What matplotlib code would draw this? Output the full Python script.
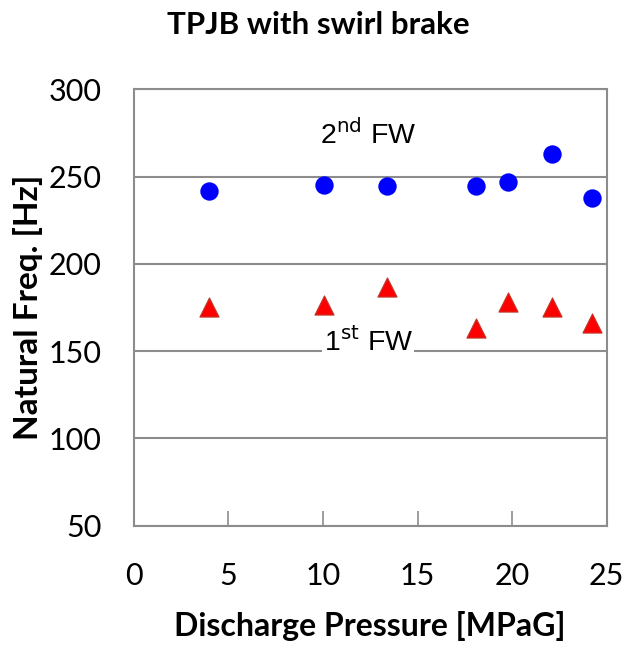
import matplotlib
matplotlib.use("Agg")
import matplotlib.pyplot as plt
from matplotlib import font_manager

pressure = [4.0, 10.05, 13.4, 18.1, 19.8, 22.1, 24.2]
fw2 = [241.5, 245.2, 244.8, 244.6, 247.1, 262.8, 237.5]
fw1 = [175.5, 176.4, 186.6, 163.1, 178.3, 175.3, 165.9]
xticks = [0, 5, 10, 15, 20, 25]
yticks = [50, 100, 150, 200, 250, 300]

names = {f.name for f in font_manager.fontManager.ttflist}
narrow = 'Liberation Sans Narrow' if 'Liberation Sans Narrow' in names else 'Liberation Sans'
base = 'Lato'

fig = plt.figure(figsize=(6.42, 6.53), dpi=100)
ax = fig.add_axes([133.7/642, 1 - 525.7/653, (606.7-133.7)/642, (525.7-89.3)/653])

ax.set_xlim(0, 25)
ax.set_ylim(50, 300)
ax.set_xticks(xticks)
ax.set_yticks(yticks)
ax.yaxis.grid(True, color='#8c8c8c', linewidth=1.5)
ax.set_axisbelow(True)
for s in ax.spines.values():
    s.set_color('#8c8c8c')
    s.set_linewidth(1.5)
ax.tick_params(axis='x', direction='in', length=11, width=1.2, color='#8c8c8c', pad=26)
ax.tick_params(axis='y', length=0, pad=23)
for lab in ax.get_xticklabels() + ax.get_yticklabels():
    lab.set_fontfamily(base)
    lab.set_fontsize(22)

ax.scatter(pressure, fw2, marker='o', s=175, color='#0000ff', zorder=3, linewidths=0)
ax.scatter(pressure, fw1, marker='^', s=190, color='#ff0000', edgecolors='#c0392b', linewidths=0.8, zorder=3)

ax.text(12.4, 274, r'2$^{\mathrm{nd}}$ FW', ha='center', va='center', fontsize=20.5,
        family=narrow)
ax.text(12.4, 150, r'1$^{\mathrm{st}}$ FW', ha='center', va='baseline', fontsize=20.5,
        family=narrow, zorder=2,
        bbox=dict(facecolor='white', edgecolor='none', pad=1))

ax.set_xlabel('Discharge Pressure [MPaG]', fontsize=23, fontweight='bold', family=base, labelpad=15)
ax.set_ylabel('Natural Freq. [Hz]', fontsize=24, fontweight='bold', family=base, labelpad=4)
fig.text(318/642, 1 - 25/653, 'TPJB with swirl brake', ha='center', va='center', fontsize=22.5,
         fontweight='bold', family=base)

fig.savefig('out.png', dpi=100)
